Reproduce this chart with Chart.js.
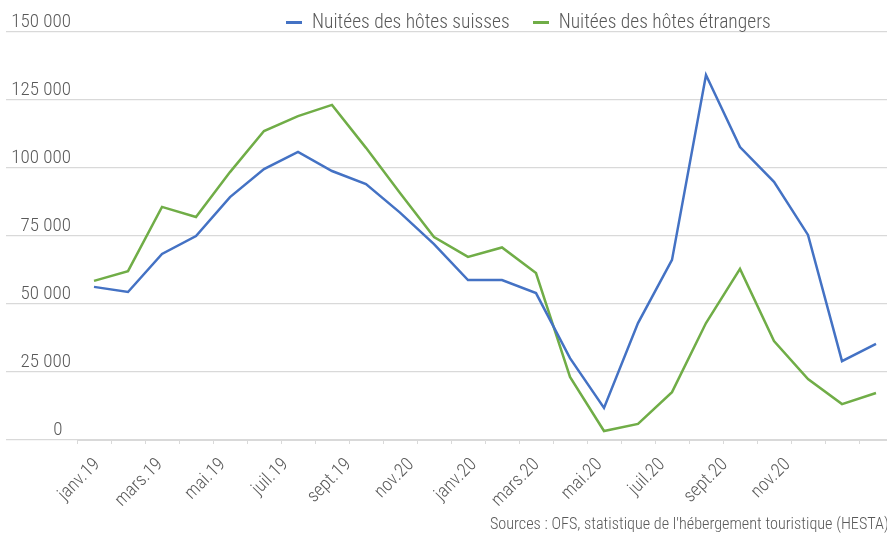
<!DOCTYPE html>
<html lang="fr">
  <head>
    <meta charset="UTF-8" />
    <title>Nuitées des hôtes suisses et étrangers</title>
    <script src="https://cdn.jsdelivr.net/npm/chart.js"></script>
    <style>
      body { margin: 0; background: #fff; overflow: hidden; }
      #wrap { position: relative; width: 900px; height: 535px; }
      .txt { font-family: 'Roboto Condensed', 'Liberation Sans Narrow', sans-serif; font-weight: 300; color: #595959; }
      #legend { position: absolute; top: 10px; left: 286px; font-size: 19.5px; line-height: 24px; white-space: nowrap; }
      #legend .sw { display: inline-block; width: 16px; height: 3px; vertical-align: middle; margin-right: 10px; }
      #legend .item + .item { margin-left: 23px; }
      #source { position: absolute; top: 514px; left: 490px; font-size: 16.2px; white-space: nowrap; }
    </style>
  </head>
  <body>
    <div id="wrap">
      <canvas id="chart"></canvas>
      <div id="legend" class="txt"></div>
      <div id="source" class="txt">Sources : OFS, statistique de l'hébergement touristique (HESTA)</div>
    </div>
    <script>
      const months = [
        'janv.19', 'févr.19', 'mars.19', 'avr.19', 'mai.19', 'juin.19',
        'juil.19', 'août.19', 'sept.19', 'oct.19', 'nov.19', 'déc.19',
        'janv.20', 'févr.20', 'mars.20', 'avr.20', 'mai.20', 'juin.20',
        'juil.20', 'août.20', 'sept.20', 'oct.20', 'nov.20', 'déc.20'
      ];
      // labels as printed under the axis (every second month)
      const tickLabels = [
        'janv.19', 'mars.19', 'mai.19', 'juil.19', 'sept.19', 'nov.20',
        'janv.20', 'mars.20', 'mai.20', 'juil.20', 'sept.20', 'nov.20'
      ];
      const swissGuests = [
        56300, 54400, 68400, 75000, 89300, 99600, 105900, 98900, 94100, 83600, 72000, 58800,
        58800, 54000, 30100, 11800, 43000, 66200, 134200, 107700, 94900, 75400, 29000, 35300
      ];
      const foreignGuests = [
        58500, 62100, 85700, 82000, 98500, 113600, 119100, 123200, 107400, 90800, 74600, 67300,
        70800, 61400, 23200, 3300, 5900, 17600, 43000, 62900, 36400, 22400, 13200, 17300
      ];
      const seriesNames = ['Nuitées des hôtes suisses', 'Nuitées des hôtes étrangers'];
      const seriesColors = ['#4472c4', '#70ad47'];

      const font = "'Roboto Condensed', 'Liberation Sans Narrow', sans-serif";
      const grey = '#595959';
      const gridColor = '#d9d9d9';

      // "150 000"; the zero label sits a little left of the others
      const fmt = (v) => v === 0 ? '0  ' : String(v).replace(/\B(?=(\d{3})+(?!\d))/g, ' ');

      const legend = document.getElementById('legend');
      seriesNames.forEach((name, i) => {
        const item = document.createElement('span');
        item.className = 'item';
        item.innerHTML = '<span class="sw" style="background:' + seriesColors[i] + '"></span>' + name;
        legend.appendChild(item);
      });

      const ctx = document.getElementById('chart').getContext('2d');
      new Chart(ctx, {
        type: 'line',
        data: {
          labels: months,
          datasets: [swissGuests, foreignGuests].map((data, i) => ({
            label: seriesNames[i],
            data: data,
            borderColor: seriesColors[i],
            backgroundColor: seriesColors[i],
            borderWidth: 2.5,
            pointRadius: 0,
            tension: 0,
            fill: false
          }))
        },
        options: {
          responsive: true,
          maintainAspectRatio: false,
          animation: false,
          layout: { padding: { top: 32, right: 7, left: 0, bottom: 0 } },
          plugins: {
            legend: { display: false },
            tooltip: { enabled: false }
          },
          scales: {
            x: {
              offset: true,
              weight: 0,
              afterFit: (scale) => { scale.height = 4; },
              border: { display: true, color: gridColor, width: 1 },
              grid: {
                offset: true,
                drawOnChartArea: false,
                drawTicks: true,
                tickLength: 4,
                color: gridColor
              },
              ticks: { display: false }
            },
            // label strip: 12 labels spread evenly under the axis
            xLabels: {
              type: 'linear',
              position: 'bottom',
              weight: 1,
              min: -0.325,
              max: tickLabels.length + 0.675,
              afterBuildTicks: (scale) => {
                scale.ticks = tickLabels.map((_, k) => ({ value: k }));
              },
              afterFit: (scale) => { scale.height = 91; },
              border: { display: false },
              grid: { display: false },
              ticks: {
                autoSkip: false,
                minRotation: 45,
                maxRotation: 45,
                padding: 2,
                color: grey,
                font: { family: font, size: 18.5, weight: 300 },
                callback: (v) => tickLabels[v]
              }
            },
            y: {
              min: 0,
              max: 150000,
              afterFit: (scale) => { scale.width = 77; },
              border: { display: false },
              grid: {
                color: gridColor,
                tickLength: 71,
                lineWidth: 1.2
              },
              ticks: {
                stepSize: 25000,
                padding: -65,
                labelOffset: -10,
                color: grey,
                font: { family: font, size: 19, weight: 300 },
                callback: (v) => fmt(v)
              }
            }
          }
        }
      });
    </script>
  </body>
</html>
